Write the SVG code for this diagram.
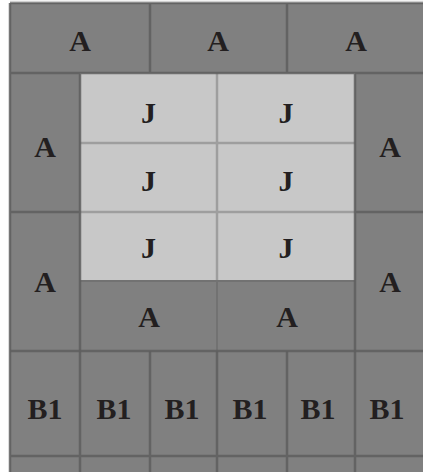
<svg xmlns="http://www.w3.org/2000/svg" width="423" height="472" viewBox="0 0 423 472">
<style>
.d{fill:#808080}
.l{fill:#c8c8c8}
.t{font-family:"Liberation Serif","Times New Roman",serif;font-weight:bold;font-size:30px;fill:#231f20;text-anchor:middle}
.k{stroke:#5e5e5e;stroke-width:2.5;fill:none;stroke-opacity:0.85}
.s{stroke:#9e9e9e;stroke-width:2.5;fill:none}
.f{stroke:#727272;stroke-width:2;fill:none}
</style>
<rect x="0" y="0" width="423" height="472" fill="#ffffff"/>
<g id="top-row">
<g id="a1"><rect class="d" x="10" y="3" width="140" height="70"/><text class="t" x="80" y="51">A</text></g>
<g id="a2"><rect class="d" x="150" y="3" width="137" height="70"/><text class="t" x="218" y="51">A</text></g>
<g id="a3"><rect class="d" x="287" y="3" width="136" height="70"/><text class="t" x="356" y="51">A</text></g>
</g>
<g id="left-col">
<g id="al1"><rect class="d" x="10" y="73" width="70" height="139"/><text class="t" x="45" y="157">A</text></g>
<g id="al2"><rect class="d" x="10" y="212" width="70" height="139"/><text class="t" x="45" y="292">A</text></g>
</g>
<g id="right-col">
<g id="ar1"><rect class="d" x="355" y="73" width="68" height="139"/><text class="t" x="390" y="157">A</text></g>
<g id="ar2"><rect class="d" x="355" y="212" width="68" height="139"/><text class="t" x="390" y="292">A</text></g>
</g>
<g id="j-block">
<g id="j1"><rect class="l" x="80" y="73" width="137" height="70"/><text class="t" x="148.5" y="123">J</text></g>
<g id="j2"><rect class="l" x="217" y="73" width="138" height="70"/><text class="t" x="286" y="123">J</text></g>
<g id="j3"><rect class="l" x="80" y="143" width="137" height="69"/><text class="t" x="148.5" y="191">J</text></g>
<g id="j4"><rect class="l" x="217" y="143" width="138" height="69"/><text class="t" x="286" y="191">J</text></g>
<g id="j5"><rect class="l" x="80" y="212" width="137" height="69"/><text class="t" x="148.5" y="258">J</text></g>
<g id="j6"><rect class="l" x="217" y="212" width="138" height="69"/><text class="t" x="286" y="258">J</text></g>
</g>
<g id="bottom-a">
<g id="ab1"><rect class="d" x="80" y="281" width="137" height="70"/><text class="t" x="149" y="327">A</text></g>
<g id="ab2"><rect class="d" x="217" y="281" width="138" height="70"/><text class="t" x="287" y="327">A</text></g>
</g>
<g id="b1-row">
<g id="b1a"><rect class="d" x="10" y="351" width="70" height="121"/><text class="t" x="45" y="419">B1</text></g>
<g id="b1b"><rect class="d" x="80" y="351" width="70" height="121"/><text class="t" x="114" y="419">B1</text></g>
<g id="b1c"><rect class="d" x="150" y="351" width="67" height="121"/><text class="t" x="182" y="419">B1</text></g>
<g id="b1d"><rect class="d" x="217" y="351" width="70" height="121"/><text class="t" x="250" y="419">B1</text></g>
<g id="b1e"><rect class="d" x="287" y="351" width="68" height="121"/><text class="t" x="318" y="419">B1</text></g>
<g id="b1f"><rect class="d" x="355" y="351" width="68" height="121"/><text class="t" x="387" y="419">B1</text></g>
</g>
<g id="connectors">
<path class="s" d="M80 143H355M80 212H355M217 73V281"/>
<path class="f" d="M217 281V351M80 281H355"/>
<path class="k" d="M10 3H423M10 3V472M150 3V73M287 3V73M10 73H423M80 73V472M355 73V472M10 212H80M355 212H423M150 351V472M217 351V472M287 351V472M10 456H423"/>
<path class="k" stroke-width="3.5" d="M10 351H423"/>
<path d="M10 1.5H423" stroke="#d0d0d0" stroke-width="1.5"/>
</g>
</svg>
